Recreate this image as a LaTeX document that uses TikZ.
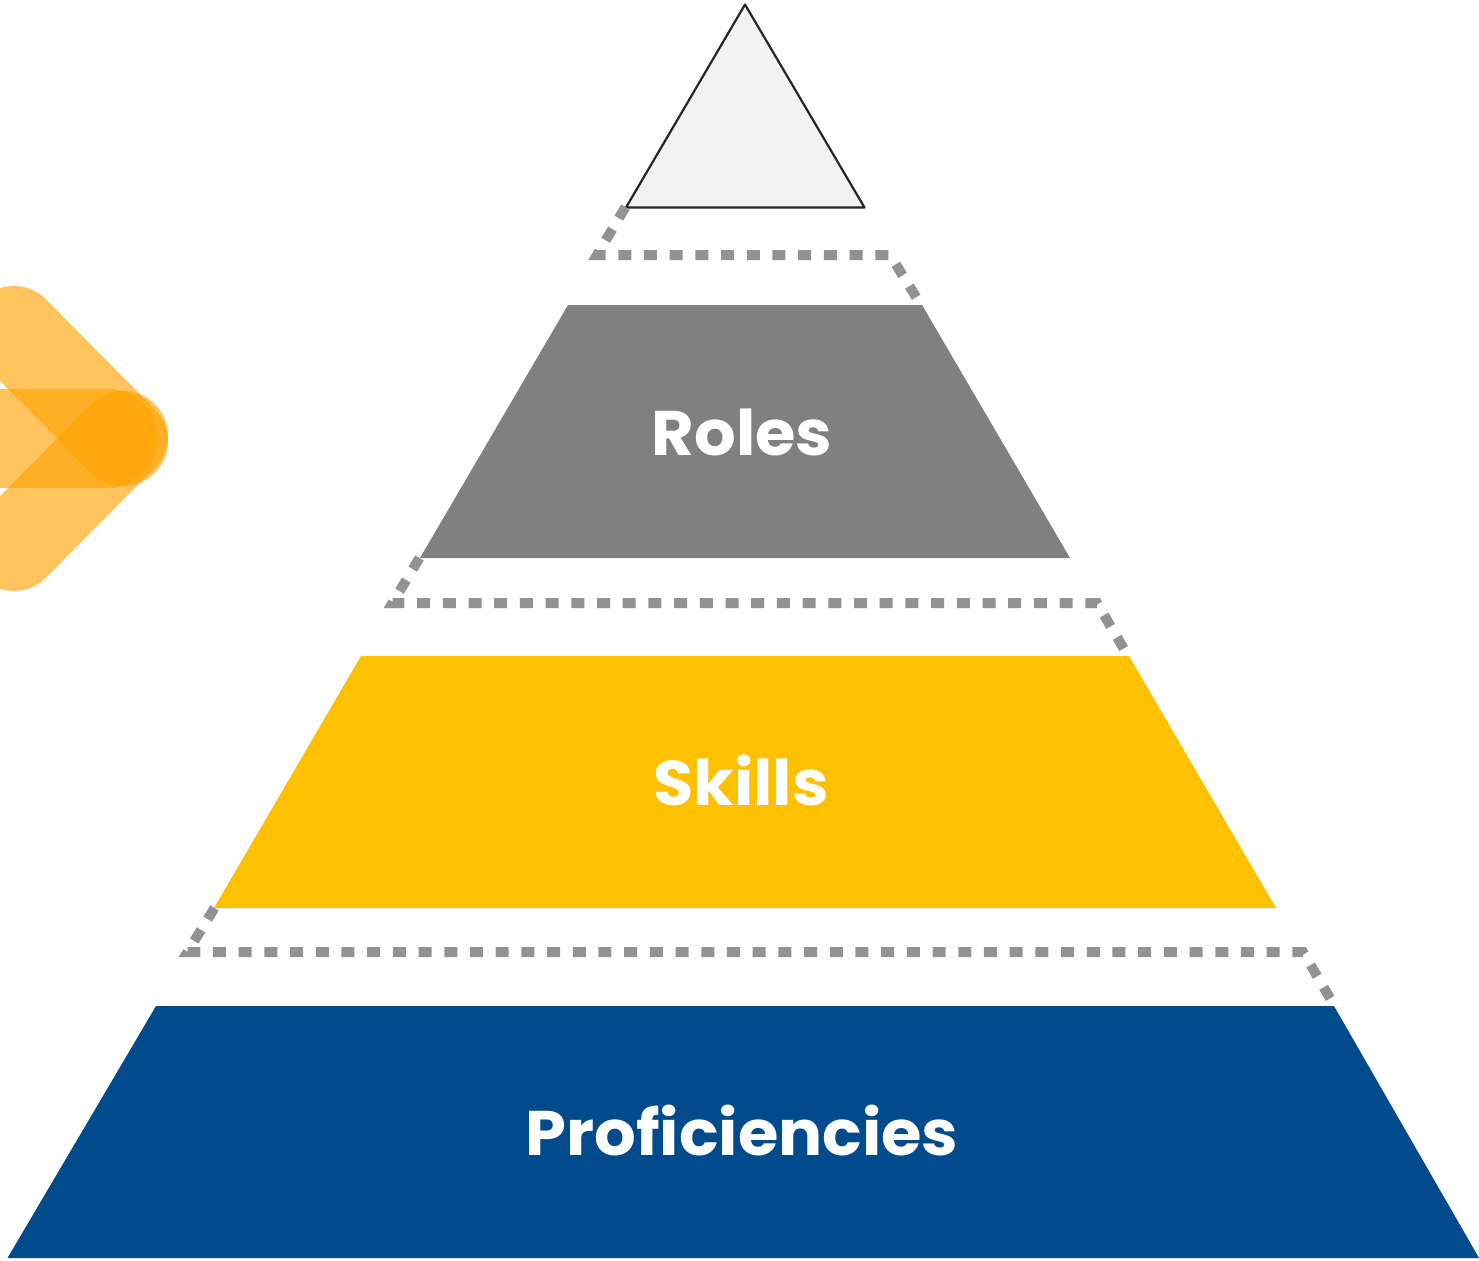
\documentclass[tikz,border=0pt]{standalone}
\usepackage{fontspec}
\setmainfont{Poppins}[FakeStretch=1.04]
\definecolor{dashgray}{HTML}{929292}
\definecolor{tiergray}{HTML}{808080}
\definecolor{tieryellow}{HTML}{FFC000}
\definecolor{tierblue}{HTML}{014A8C}
\definecolor{tipfill}{HTML}{F2F2F2}
\definecolor{logoorange}{HTML}{FFA200}
\tikzset{
  tierlabel/.style={text=white,font=\fontsize{63}{63}\selectfont\bfseries,inner sep=0pt,anchor=base},
  gapline/.style={draw=dashgray,line width=10pt,dash pattern=on 13pt off 12.7pt,miter limit=10},
  logoarm/.style={draw=logoorange,draw opacity=.63,line width=90pt,line cap=round},
  logobar/.style={draw=logoorange,draw opacity=.63,line width=99pt,line cap=round}
}
\begin{document}
\begin{tikzpicture}[x=1pt,y=-1pt]
\useasboundingbox (0,0) rectangle (1479,1260);
\clip (0,0) rectangle (1479,1260);
% logo
\coordinate (armTopA) at (14,331);
\coordinate (armTopB) at (123,441);
\coordinate (armLowA) at (14,546);
\coordinate (armLowB) at (123,436);
\coordinate (barA) at (-80,438.5);
\coordinate (barB) at (108,438.5);
\draw[logoarm] (armTopA) -- (armTopB);
\draw[logoarm] (armLowA) -- (armLowB);
\draw[logobar] (barA) -- (barB);
% tiers
\draw[fill=tipfill,draw=black!85,line width=2.2pt,line join=round] (745,4.5) -- (864.5,207.5) -- (626,207.5) -- cycle;
\fill[tiergray] (568,305) -- (922,305) -- (1070,558) -- (420,558) -- cycle;
\fill[tieryellow] (361,656) -- (1129,656) -- (1276,908) -- (214,908) -- cycle;
\fill[tierblue] (156,1006) -- (1334,1006) -- (1479,1258) -- (7.5,1258) -- cycle;
% dashed frames
\coordinate (a1) at (625.5,207);
\coordinate (a2) at (597,255);
\coordinate (a3) at (890,255);
\coordinate (a4) at (921,305);
\coordinate (b1) at (419.5,558);
\coordinate (b2) at (392.5,603);
\coordinate (b3) at (1097,603);
\coordinate (b4) at (1128,656);
\coordinate (c1) at (214.5,908);
\coordinate (c2) at (187.5,952);
\coordinate (c3) at (1303,952);
\coordinate (c4) at (1334,1005);
\draw[gapline] (a1) -- (a2) -- (a3) -- (a4);
\draw[gapline] (b1) -- (b2) -- (b3) -- (b4);
\draw[gapline] (c1) -- (c2) -- (c3) -- (c4);
% labels
\node[tierlabel] (roles) at (742,455) {Roles};
\node[tierlabel] (skills) at (741,805) {Skills};
\node[tierlabel] (prof) at (742,1155) {Proficiencies};
\end{tikzpicture}
\end{document}
